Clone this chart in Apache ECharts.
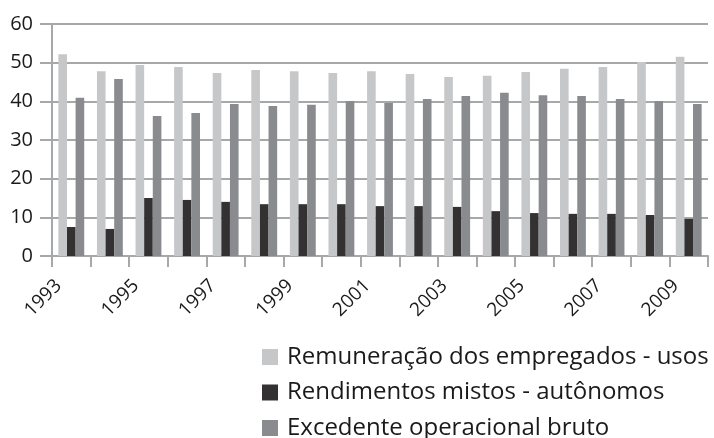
<!DOCTYPE html>
<html>
<head>
<meta charset="utf-8">
<script src="https://cdn.jsdelivr.net/npm/echarts@6/dist/echarts.min.js"></script>
<style>html,body{margin:0;padding:0;background:#fff}#c{width:714px;height:438px}</style>
</head>
<body>
<div id="c"></div>
<script>
var categories = ['1993','1994','1995','1996','1997','1998','1999','2000','2001','2002','2003','2004','2005','2006','2007','2008','2009'];
var remuneracao = [52.2, 47.8, 49.4, 48.9, 47.3, 48.1, 47.8, 47.3, 47.8, 47.1, 46.3, 46.6, 47.6, 48.4, 48.9, 50.2, 51.5];
var rendimentos = [7.5, 7.0, 15.0, 14.5, 14.0, 13.4, 13.4, 13.4, 12.9, 12.9, 12.7, 11.6, 11.1, 10.9, 10.9, 10.6, 9.6];
var excedente = [40.9, 45.8, 36.2, 37.0, 39.3, 38.8, 39.1, 40.1, 39.6, 40.6, 41.4, 42.2, 41.6, 41.4, 40.6, 40.1, 39.3];
var seriesNames = ['Remuneração dos empregados - usos', 'Rendimentos mistos - autônomos', 'Excedente operacional bruto'];
var yTicks = [0, 10, 20, 30, 40, 50, 60];

var font = 'Open Sans';
var legendTops = [345, 380.5, 416];
var legends = seriesNames.map(function (n, i) {
  return {
    orient: 'vertical', left: 262, top: legendTops[i],
    itemWidth: 16, itemHeight: 16, itemGap: 0, padding: 0,
    icon: 'rect',
    textStyle: {fontFamily: font, fontSize: 24, color: '#1a1a1a', padding: [0,0,0,4]},
    data: [n]
  };
});
var chart = echarts.init(document.getElementById('c'), null, {renderer: 'canvas'});
chart.setOption({
  animation: false,
  textStyle: {fontFamily: font},
  grid: {left: 52, right: 6, top: 24, bottom: 182, containLabel: false},
  legend: legends,
  xAxis: {
    type: 'category', data: categories,
    axisLine: {lineStyle: {color: '#a7a8aa', width: 2}},
    axisTick: {show: true, interval: 0, length: 11, lineStyle: {color: '#a7a8aa', width: 2}},
    axisLabel: {
      interval: 1, rotate: 45, margin: 14,
      formatter: function (v) { return '{v|' + v + '}{g|}'; },
      rich: {
        v: {fontFamily: font, fontSize: 19, color: '#1a1a1a'},
        g: {width: 18, height: 1}
      }
    }
  },
  yAxis: {
    type: 'value', min: yTicks[0], max: yTicks[yTicks.length-1], interval: 10,
    axisLine: {show: true, lineStyle: {color: '#a7a8aa', width: 2}},
    axisTick: {show: true, length: 12, lineStyle: {color: '#a7a8aa', width: 2}},
    splitLine: {lineStyle: {color: '#a7a8aa', width: 2}},
    axisLabel: {fontFamily: font, fontSize: 20, color: '#1a1a1a', margin: 19}
  },
  series: [
    {name: seriesNames[0], type: 'bar', data: remuneracao, itemStyle: {color: '#c6c7c9'}, barGap: '0%', barCategoryGap: '33%'},
    {name: seriesNames[1], type: 'bar', data: rendimentos, itemStyle: {color: '#333132'}},
    {name: seriesNames[2], type: 'bar', data: excedente, itemStyle: {color: '#8a8b8f'}}
  ]
});
</script>
</body>
</html>
